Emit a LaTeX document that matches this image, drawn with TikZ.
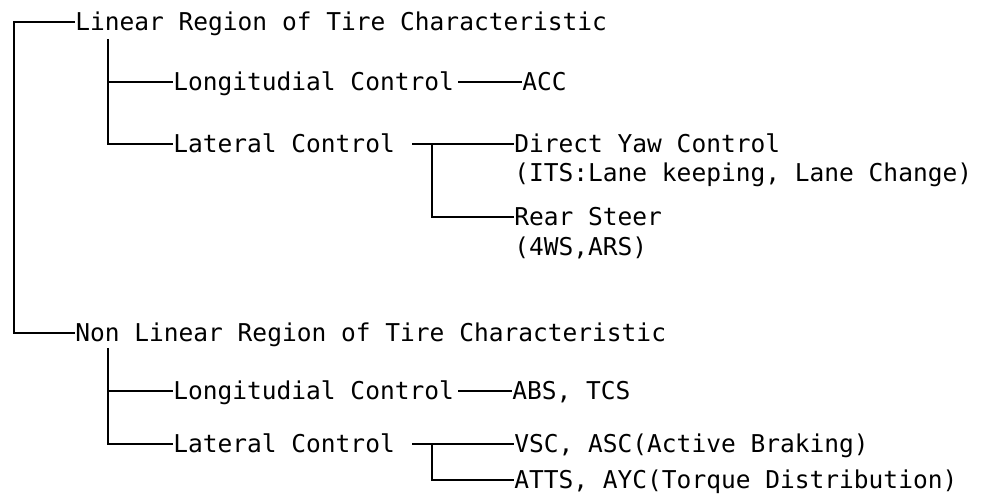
\documentclass[tikz,border=0pt]{standalone}
\usepackage{fontspec}
\newfontfamily\treefont{DejaVu Sans Mono}
\usepackage{tikz}
\usetikzlibrary{positioning, calc}
\tikzstyle{item}   = [anchor=west, inner sep=0pt, text height=13.4pt, text depth=0pt,
                      font=\treefont\fontsize{18.4}{20}\selectfont]
\tikzstyle{branch} = [line width=1.3pt]

\begin{document}
\begin{tikzpicture}[x=0.75pt, y=-0.75pt]
  \useasboundingbox (0,0) rectangle (982,495);

  % --- Linear region ---
  \node[item] (lin)  at (75, 22)  {Linear Region of Tire Characteristic};
  \node[item] (lon1) at (173, 82) {Longitudial Control};
  \node[item] (acc)  at (522, 82) {ACC};
  \node[item] (lat1) at (173,144) {Lateral Control};
  \node[item] (dyc)  at (514,144) {Direct Yaw Control};
  \node[item] (its)  at (514,173) {(ITS:Lane keeping, Lane Change)};
  \node[item] (rs)   at (514,217) {Rear Steer};
  \node[item] (ars)  at (514,247) {(4WS,ARS)};

  % --- Non linear region ---
  \node[item] (nonlin) at (75,333)  {Non Linear Region of Tire Characteristic};
  \node[item] (lon2)   at (173,391) {Longitudial Control};
  \node[item] (abs)    at (512,391) {ABS, TCS};
  \node[item] (lat2)   at (173,444) {Lateral Control};
  \node[item] (vsc)    at (514,444) {VSC, ASC(Active Braking)};
  \node[item] (atts)   at (514,480) {ATTS, AYC(Torque Distribution)};

  % junctions
  \coordinate (b1) at (108, 39);
  \coordinate (b2) at (108,348);
  \coordinate (j1) at (432,144);
  \coordinate (j2) at (432,444);

  % Connections
  \draw[branch] (lin.west) -- ++(-61,0) |- (nonlin.west);
  \draw[branch] (b1) |- (lat1.west);
  \draw[branch] (b1 |- lon1.west) -- (lon1.west);
  \draw[branch] ([xshift=3pt]lon1.east) -- (acc.west);
  \draw[branch] ([xshift=13pt]lat1.east) -- (dyc.west);
  \draw[branch] (j1) |- (rs.west);

  \draw[branch] (b2) |- (lat2.west);
  \draw[branch] (b2 |- lon2.west) -- (lon2.west);
  \draw[branch] ([xshift=3pt]lon2.east) -- (abs.west);
  \draw[branch] ([xshift=13pt]lat2.east) -- (vsc.west);
  \draw[branch] (j2) |- (atts.west);
\end{tikzpicture}
\end{document}
